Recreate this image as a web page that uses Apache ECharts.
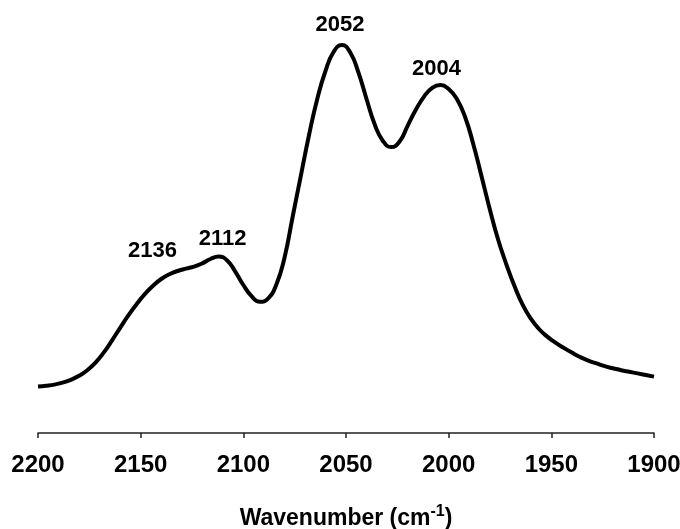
<!DOCTYPE html>
<html>
<head>
<meta charset="utf-8">
<script src="https://cdn.jsdelivr.net/npm/echarts@6/dist/echarts.min.js"></script>
<style>
  html, body { margin: 0; padding: 0; background: #fff; }
  #chart { width: 680px; height: 529px; }
</style>
</head>
<body>
<div id="chart"></div>
<script>
// wavenumber (cm-1) and absorbance (arb. units), every 4 cm-1
var wavenumbers = [2200, 2196, 2192, 2188, 2184, 2180, 2176, 2172, 2168, 2164,
    2160, 2156, 2152, 2148, 2144, 2140, 2136, 2132, 2128, 2124,
    2120, 2116, 2112, 2108, 2104, 2100, 2096, 2092, 2088, 2084,
    2080, 2076, 2072, 2068, 2064, 2060, 2056, 2052, 2048, 2044,
    2040, 2036, 2032, 2028, 2024, 2020, 2016, 2012, 2008, 2004,
    2000, 1996, 1992, 1988, 1984, 1980, 1976, 1972, 1968, 1964,
    1960, 1956, 1952, 1948, 1944, 1940, 1936, 1932, 1928, 1924,
    1920, 1916, 1912, 1908, 1904, 1900];
var absorbance = [0.116, 0.118, 0.121, 0.126, 0.133, 0.143, 0.157, 0.176, 0.201, 0.231,
    0.263, 0.294, 0.322, 0.347, 0.368, 0.385, 0.397, 0.405, 0.411, 0.416,
    0.424, 0.435, 0.441, 0.432, 0.404, 0.370, 0.342, 0.328, 0.336, 0.370,
    0.437, 0.540, 0.643, 0.745, 0.835, 0.905, 0.953, 0.970, 0.952, 0.902,
    0.835, 0.771, 0.730, 0.715, 0.728, 0.768, 0.808, 0.841, 0.863, 0.870,
    0.860, 0.835, 0.790, 0.722, 0.642, 0.560, 0.485, 0.423, 0.368, 0.321,
    0.286, 0.260, 0.241, 0.226, 0.213, 0.201, 0.190, 0.181, 0.174, 0.167,
    0.162, 0.157, 0.153, 0.149, 0.145, 0.141];
var peakLabels = [2136, 2112, 2052, 2004];
var xTicks = [2200, 2150, 2100, 2050, 2000, 1950, 1900];

var chart = echarts.init(document.getElementById('chart'));

// curve height at a wavenumber (for placing the peak labels)
function yAt(w) {
    for (var i = 0; i < wavenumbers.length - 1; i++) {
        var a = wavenumbers[i], b = wavenumbers[i + 1];
        if (w <= a && w >= b) {
            var t = (a - w) / (a - b);
            return absorbance[i] + t * (absorbance[i + 1] - absorbance[i]);
        }
    }
    return 0;
}

var labelOffsets = [[-17, -4], [4, 1], [-2, -1], [-4, 3]];

var lineData = wavenumbers.map(function (w, i) { return [w, absorbance[i]]; });
var peakData = peakLabels.map(function (p, i) {
    return {
        value: [p, yAt(p)],
        label: { offset: labelOffsets[i] }
    };
});

var font = 'Liberation Sans, Arial, Helvetica, sans-serif';

var option = {
    animation: false,
    grid: { left: 38, right: 26, top: 33, bottom: 96, outerBoundsMode: 'none', containLabel: false },
    xAxis: {
        type: 'value',
        inverse: true,
        min: 1900,
        max: 2200,
        interval: 50,
        name: '{a|Wavenumber (cm}{b|-1}{a|)}',
        nameLocation: 'middle',
        nameGap: 71,
        nameTextStyle: {
            rich: {
                a: { fontFamily: font, fontWeight: 'bold', fontSize: 23, color: '#000' },
                b: { fontFamily: font, fontWeight: 'bold', fontSize: 16, color: '#000', padding: [0, 0, 14, 0] }
            }
        },
        splitLine: { show: false },
        axisLine: { lineStyle: { color: '#222', width: 1.5 } },
        axisTick: { length: 5, lineStyle: { color: '#222', width: 1.5 } },
        axisLabel: {
            margin: 20,
            fontFamily: font,
            fontWeight: 'bold',
            fontSize: 24,
            color: '#000',
            formatter: function (v) { return xTicks.indexOf(v) >= 0 ? String(v) : ''; }
        }
    },
    yAxis: {
        type: 'value',
        min: 0,
        max: 1,
        show: false
    },
    series: [
        {
            type: 'line',
            data: lineData,
            smooth: true,
            showSymbol: false,
            lineStyle: { color: '#000', width: 4 },
            z: 2
        },
        {
            type: 'scatter',
            data: peakData,
            symbolSize: 0,
            itemStyle: { opacity: 1 },
            label: {
                show: true,
                position: 'top',
                distance: 8,
                fontFamily: font,
                fontWeight: 'bold',
                fontSize: 22,
                color: '#000',
                opacity: 1,
                formatter: function (p) { return String(p.value[0]); }
            },
            z: 3
        }
    ]
};

chart.setOption(option);
</script>
</body>
</html>
